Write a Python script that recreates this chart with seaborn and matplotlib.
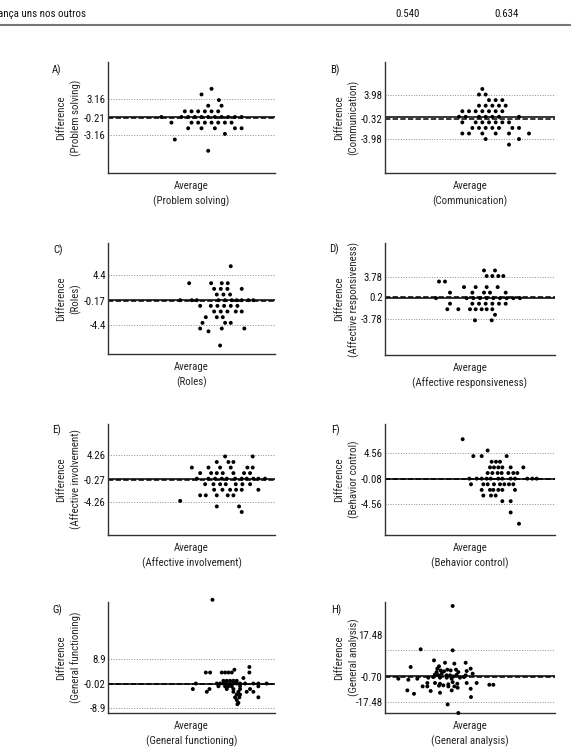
import numpy as np
import pandas as pd
import matplotlib.pyplot as plt
import seaborn as sns
from matplotlib.lines import Line2D
from matplotlib import font_manager as fm

# A) Problem solving
ps_avg = [51.5, 48.5, 53.7, 50.5, 54.5,
          43.5, 45.5, 47.5, 49.5, 51.5, 53.5,
          36.5, 42.5, 44.5, 46.5, 48.5, 50.5, 52.5, 54.5, 56.5, 58.5, 60.5,
          39.5, 45.5, 47.5, 49.5, 51.5, 53.5, 55.5, 57.5,
          44.5, 48.5, 52.5, 58.5, 60.5,
          55.5, 40.5, 50.5]
ps_diff = [5, 4, 3, 2, 2,
           1, 1, 1, 1, 1, 1,
           0, 0, 0, 0, 0, 0, 0, 0, 0, 0, 0,
           -1, -1, -1, -1, -1, -1, -1, -1,
           -2, -2, -2, -2, -2,
           -3, -4, -6]

# B) Communication
cm_avg = [48.7,
          47.7, 49.7,
          50.7, 52.7, 54.7,
          47.7, 49.7, 51.7, 53.7, 55.7,
          42.7, 44.7, 46.7, 48.7, 50.7, 52.7, 54.7,
          41.7, 43.7, 47.7, 49.7, 51.7, 53.7, 59.7,
          42.7, 46.7, 48.7, 50.7, 52.7, 54.7, 56.7,
          45.7, 47.7, 49.7, 51.7, 53.7, 57.7, 59.7,
          42.7, 44.7, 48.7, 52.7, 56.7, 62.7,
          49.7, 59.7,
          56.7]
cm_diff = [5,
           4, 4,
           3, 3, 3,
           2, 2, 2, 2, 2,
           1, 1, 1, 1, 1, 1, 1,
           0, 0, 0, 0, 0, 0, 0,
           -1, -1, -1, -1, -1, -1, -1,
           -2, -2, -2, -2, -2, -2, -2,
           -3, -3, -3, -3, -3, -3,
           -4, -4,
           -5]

# C) Roles
ro_avg = [57.2,
          44.7, 51.3, 54.5, 56.3,
          52.2, 54.2, 56.2, 60.5,
          53.0, 55.0, 57.0,
          42.0, 45.5, 47.0, 53.5, 55.5, 57.5, 59.0, 60.5, 62.5, 64.0,
          48.0, 51.2, 53.2, 55.2, 57.2, 59.2,
          52.2, 54.2, 56.2, 58.7, 60.5,
          49.7, 53.0, 54.8,
          48.7, 55.5, 57.2,
          48.0, 54.5, 61.3,
          50.5,
          54.0]
ro_diff = [6,
           3, 3, 3, 3,
           2, 2, 2, 2,
           1, 1, 1,
           0, 0, 0, 0, 0, 0, 0, 0, 0, 0,
           -1, -1, -1, -1, -1, -1,
           -2, -2, -2, -2, -2,
           -3, -3, -3,
           -4, -4, -4,
           -5, -5, -5,
           -5.5,
           -8]

# D) Affective responsiveness
ar_avg = [49.2, 52.5,
          50.0, 51.7, 53.5, 55.0,
          35.7, 37.5,
          43.2, 46.7, 50.0, 53.3,
          39.0, 45.7, 49.2, 51.0, 55.7,
          34.8, 44.0, 46.0, 48.0, 50.0, 52.0, 54.0, 56.0, 58.0, 60.0,
          39.0, 45.7, 47.7, 49.7, 51.7, 53.7, 55.7,
          38.2, 41.5, 45.0, 46.7, 48.5, 50.0, 51.7,
          52.5,
          46.5, 51.5]
ar_diff = [5, 5,
           4, 4, 4, 4,
           3, 3,
           2, 2, 2, 2,
           1, 1, 1, 1, 1,
           0, 0, 0, 0, 0, 0, 0, 0, 0, 0,
           -1, -1, -1, -1, -1, -1, -1,
           -2, -2, -2, -2, -2, -2, -2,
           -3,
           -4, -4]

# E) Affective involvement
ai_avg = [55.5, 63.8,
          53.0, 56.5, 58.0,
          45.5, 50.5, 54.0, 57.2, 62.2, 63.8,
          48.0, 51.3, 53.0, 54.8, 58.0, 61.2, 63.0,
          47.0, 50.5, 52.5, 54.5, 56.0, 58.5, 60.5, 62.0, 64.0, 65.5, 67.5,
          49.5, 52.0, 54.0, 55.7, 58.7, 60.7, 63.0,
          52.2, 54.7, 57.0, 58.8, 60.5, 65.5,
          48.0, 49.7, 53.0, 56.3, 58.0,
          42.0,
          53.0, 59.7,
          60.5]
ai_diff = [4, 4,
           3, 3, 3,
           2, 2, 2, 2, 2, 2,
           1, 1, 1, 1, 1, 1, 1,
           0, 0, 0, 0, 0, 0, 0, 0, 0, 0, 0,
           -1, -1, -1, -1, -1, -1, -1,
           -2, -2, -2, -2, -2, -2,
           -3, -3, -3, -3, -3,
           -4,
           -5, -5,
           -6]

# F) Behavior control
bc_avg = [42.8,
          50.3,
          46.0, 48.5, 56.0,
          51.5, 52.8, 54.0,
          51.0, 52.2, 53.5, 54.7, 57.2, 61.0,
          50.3, 51.7, 53.3, 54.5, 56.5, 58.0, 59.2,
          44.8, 47.0, 48.5, 50.0, 51.2, 53.5, 54.7, 57.2, 58.5, 62.2, 63.7, 65.0,
          45.3, 49.0, 50.3, 52.2, 54.0, 55.3, 56.7, 58.0,
          48.5, 51.0, 52.0, 53.5, 54.7, 58.5,
          49.0, 51.3, 52.7,
          54.7, 57.2,
          57.2,
          59.7]
bc_diff = [7,
           5,
           4, 4, 4,
           3, 3, 3,
           2, 2, 2, 2, 2, 2,
           1, 1, 1, 1, 1, 1, 1,
           0, 0, 0, 0, 0, 0, 0, 0, 0, 0, 0, 0,
           -1, -1, -1, -1, -1, -1, -1, -1,
           -2, -2, -2, -2, -2, -2,
           -3, -3, -3,
           -4, -4,
           -6,
           -8]

# G) General functioning
gf_avg = [51.7,
          62.8,
          58.3,
          49.7, 51.0, 54.5, 55.5, 56.5, 57.5, 62.8,
          61.0,
          55.0, 56.0, 57.0, 58.0, 59.0,
          46.7, 53.0, 54.0, 55.0, 56.0, 57.0, 58.0, 59.0, 60.0, 61.5, 64.0, 65.5, 68.0,
          53.5, 55.5, 56.5, 57.5, 60.0, 65.5,
          45.8, 50.8, 56.0, 58.0, 60.0, 63.0,
          50.0, 58.0, 59.5, 62.0, 64.0,
          59.0, 60.0,
          58.5, 59.8, 65.5,
          59.0,
          59.5,
          59.2]
gf_diff = [30.4,
           6,
           5,
           4, 4, 4, 4, 4, 4, 4,
           2,
           1, 1, 1, 1, 1,
           0, 0, 0, 0, 0, 0, 0, 0, 0, 0, 0, 0, 0,
           -1, -1, -1, -1, -1, -1,
           -2, -2, -2, -2, -2, -2,
           -3, -3, -3, -3, -3,
           -4, -4,
           -5, -5, -5,
           -6,
           -7,
           -7.5]

# H) General analysis
ga_avg = [39.8, 30.2, 39.8, 34.2, 37.5, 40.3, 43.7, 27.2, 45.2, 35.7, 35.2, 36.2, 37.2, 38.2, 39.2, 40.8, 41.5, 44.0, 35.0,
          34.5, 35.5, 36.5, 38.0, 39.0, 40.0, 41.0, 43.7, 45.8,
          23.5, 26.5, 29.2, 32.5, 34.0, 36.0, 38.0, 39.5, 42.0, 43.2,
          32.2, 34.5, 36.0, 38.5, 39.8, 41.2, 44.0, 47.0,
          35.7, 37.0, 38.5, 40.3, 41.3,
          50.8, 52.0, 30.8, 32.2,
          26.2, 33.2, 36.0, 39.5, 45.2,
          28.2, 45.3, 38.3, 41.5]
ga_diff = [47.5, 18.2, 17.5, 10.7, 9.1, 8.5, 9.1, 6.2, 5.1, 6.7, 5.1, 3.9, 3.3, 4.4, 3.9, 4.4, 2.8, 3.5, 2.8,
           1.2, 0.6, 1.7, 0.6, 0.6, -0.1, 1.0, 0.6, 1.7,
           -1.7, -2.4, -1.7, -1.0, -0.6, -1.0, -1.0, -1.7, -1.0, -0.6,
           -4.6, -4.6, -5.1, -5.5, -4.0, -5.1, -4.6, -4.6,
           -6.4, -6.2, -6.9, -6.9, -7.8,
           -5.8, -5.8, -6.9, -6.9,
           -9.6, -10.0, -11.2, -9.6, -8.5,
           -11.9, -14.1, -19.1, -24.9]

names = ["Problem solving", "Communication", "Roles", "Affective responsiveness",
         "Affective involvement", "Behavior control", "General functioning", "General analysis"]
letters = ["A)", "B)", "C)", "D)", "E)", "F)", "G)", "H)"]
means = [-0.21, -0.32, -0.17, 0.2, -0.27, -0.08, -0.02, -0.70]
limits = [3.16, 3.98, 4.4, 3.78, 4.26, 4.56, 8.9, 17.48]
mean_labels = ["-0.21", "-0.32", "-0.17", "0.2", "-0.27", "-0.08", "-0.02", "-0.70"]
limit_labels = ["3.16", "3.98", "4.4", "3.78", "4.26", "4.56", "8.9", "17.48"]
xs = [ps_avg, cm_avg, ro_avg, ar_avg, ai_avg, bc_avg, gf_avg, ga_avg]
ys = [ps_diff, cm_diff, ro_diff, ar_diff, ai_diff, bc_diff, gf_diff, ga_diff]

sns.set_style("white")

# pick a narrow font if one is installed
have = {(f.name, f.stretch) for f in fm.fontManager.ttflist}
names_installed = {n for n, s in have}
fam = 'Roboto'
stretch = 'normal'
for cand in ['Liberation Sans Narrow', 'Roboto Condensed', 'Open Sans Condensed',
             'Noto Sans Condensed', 'DejaVu Sans Condensed']:
    if cand in names_installed:
        fam = cand
        break
else:
    for n, s in have:
        if n == 'DejaVu Sans' and s != 'normal':
            fam, stretch = 'DejaVu Sans', s
plt.rcParams['font.family'] = [fam, 'DejaVu Sans']
plt.rcParams['font.stretch'] = stretch
plt.rcParams['text.color'] = '#111111'
plt.rcParams['ytick.color'] = '#111111'

W, H = 571, 750
fig = plt.figure(figsize=(5.71, 7.5), dpi=100)

def box(x0, y0, x1, y1):
    return [x0 / W, 1 - y1 / H, (x1 - x0) / W, (y1 - y0) / H]

# layout (pixels): rect, ylim, xlim-left, letter position
rects = [(108, 62, 275, 173), (385, 62, 555, 173),
         (108, 243, 275, 354), (385, 243, 555, 355),
         (108, 424, 275, 535), (385, 424, 555, 535),
         (108, 602, 275, 713), (385, 602, 555, 713)]
ylims = [(-9.94, 9.76), (-10.1, 9.85), (-9.5, 10.1), (-10.26, 9.96),
         (-10.14, 9.84), (-10.0, 9.7), (-10.7, 29.6), (-24.9, 50.2)]
xlefts = [20.5, 19.5, 20.3, 19.5, 20.3, 19.5, 20.3, 19.5]
letter_pos = [(57, 70), (335, 70), (58, 250), (334, 249),
              (57, 430), (335, 430), (57, 610), (336, 610)]
fs = 7.8

for i in range(8):
    ax = fig.add_axes(box(*rects[i]))
    df = pd.DataFrame({'avg': xs[i], 'diff': ys[i]})
    lo = limits[i]
    ax.axhline(lo, color='#8c8c8c', lw=0.7, ls=':')
    ax.axhline(-lo, color='#8c8c8c', lw=0.7, ls=':')
    ax.axhline(0, color='black', lw=1.1)
    ax.axhline(means[i], color='black', lw=1.1, ls=(0, (3.5, 1.5)))
    sns.scatterplot(data=df, x='avg', y='diff', ax=ax, color='black', s=8,
                    edgecolor='none', clip_on=False, zorder=3)
    ax.set_xlim(xlefts[i], 70.5)
    ax.set_ylim(*ylims[i])
    ax.set_xticks([])
    upper_tick = lo if i < 7 else 27.6
    ax.set_yticks([upper_tick, means[i], -lo],
                  [limit_labels[i], mean_labels[i], "-" + limit_labels[i]])
    ax.tick_params(axis='y', length=0, pad=1.5, labelsize=fs)
    sns.despine(ax=ax)
    for s in ['left', 'bottom']:
        ax.spines[s].set_color('#333333')
        ax.spines[s].set_linewidth(1.0)
    ax.set_xlabel("Average\n(" + names[i] + ")", fontsize=fs, labelpad=6, linespacing=1.5)
    ax.set_ylabel("Difference\n(" + names[i] + ")", fontsize=fs, linespacing=1.4,
                  va='center')
    if i % 2 == 0:
        ax.yaxis.set_label_coords((69 - rects[i][0]) / (rects[i][2] - rects[i][0]), 0.5)
    else:
        ax.yaxis.set_label_coords((347 - rects[i][0]) / (rects[i][2] - rects[i][0]), 0.5)
    lx, ly = letter_pos[i]
    fig.text(lx / W, 1 - ly / H, letters[i], fontsize=fs, ha='center', va='center')

# header row from the table above
fig.text(-0.004, 1 - 14 / H, "ança uns nos outros", fontsize=fs, ha='left', va='center')
fig.text(408 / W, 1 - 14 / H, "0.540", fontsize=fs, ha='center', va='center')
fig.text(507 / W, 1 - 14 / H, "0.634", fontsize=fs, ha='center', va='center')
fig.add_artist(Line2D([0, 1], [1 - 25 / H, 1 - 25 / H], color='#777777', lw=1.5))

fig.savefig("out.png", dpi=100)
